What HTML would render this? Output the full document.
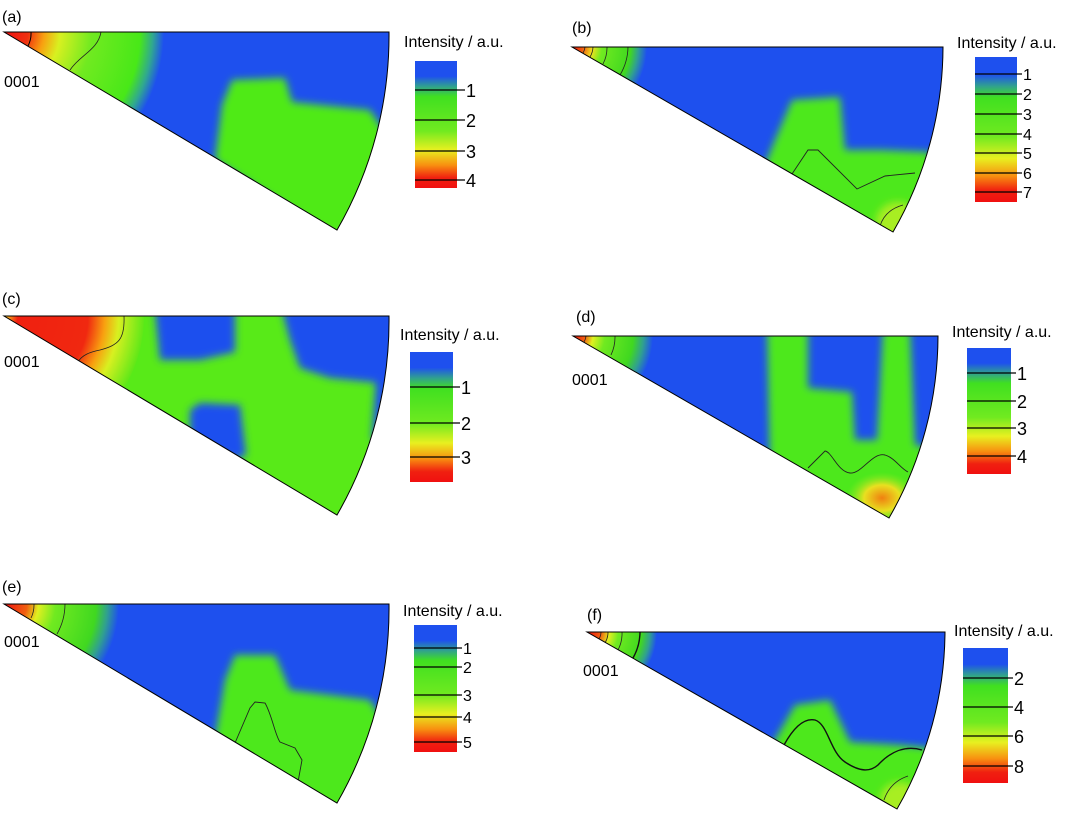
<!DOCTYPE html>
<html><head><meta charset="utf-8"><style>
html,body{margin:0;padding:0;background:#fff;}
svg{display:block;font-family:"Liberation Sans",Arial,sans-serif;}
</style></head><body>
<svg width="1079" height="817" viewBox="0 0 1079 817" xmlns="http://www.w3.org/2000/svg">
<defs>
<filter id="bl" x="-20%" y="-20%" width="140%" height="140%"><feGaussianBlur stdDeviation="4"/></filter>
<clipPath id="ca"><path d="M4,32 L389,32 A388,388 0 0 1 337,230 Z"/></clipPath>
<clipPath id="cb"><path d="M572,47 L943,47 A371,371 0 0 1 893,232 Z"/></clipPath>
<clipPath id="cc"><path d="M4,316 L389,316 A388,388 0 0 1 337,515 Z"/></clipPath>
<clipPath id="cd"><path d="M573,336 L938,336 A365,365 0 0 1 889,518 Z"/></clipPath>
<clipPath id="ce"><path d="M4,604 L389,604 A388,388 0 0 1 337,803 Z"/></clipPath>
<clipPath id="cf"><path d="M587,632 L945,632 A358,358 0 0 1 897,809 Z"/></clipPath>
<radialGradient id="ra" cx="4" cy="32" r="160" gradientUnits="userSpaceOnUse">
<stop offset="0" stop-color="#f01010"/><stop offset="0.15" stop-color="#f03010"/><stop offset="0.25" stop-color="#f8a010"/><stop offset="0.35" stop-color="#d8f020"/><stop offset="0.55" stop-color="#70ea20"/><stop offset="0.85" stop-color="#48e818"/><stop offset="0.93" stop-color="#30a890"/><stop offset="1" stop-color="#1e50ee"/></radialGradient>
<radialGradient id="rb" cx="572" cy="47" r="75" gradientUnits="userSpaceOnUse">
<stop offset="0" stop-color="#f01010"/><stop offset="0.15" stop-color="#f06010"/><stop offset="0.27" stop-color="#f0e020"/><stop offset="0.4" stop-color="#70ea20"/><stop offset="0.78" stop-color="#40d820"/><stop offset="0.88" stop-color="#30a090"/><stop offset="1" stop-color="#1e50ee"/></radialGradient>
<radialGradient id="rc" cx="4" cy="316" r="140" gradientUnits="userSpaceOnUse">
<stop offset="0" stop-color="#f8e020"/><stop offset="0.1" stop-color="#f02010"/><stop offset="0.6" stop-color="#f02810"/><stop offset="0.72" stop-color="#f8a010"/><stop offset="0.82" stop-color="#d8f020"/><stop offset="1" stop-color="#60e818"/></radialGradient>
<radialGradient id="rd" cx="573" cy="336" r="80" gradientUnits="userSpaceOnUse">
<stop offset="0" stop-color="#f01010"/><stop offset="0.15" stop-color="#f06010"/><stop offset="0.25" stop-color="#e0f020"/><stop offset="0.4" stop-color="#70ea20"/><stop offset="0.75" stop-color="#40d820"/><stop offset="0.88" stop-color="#30a090"/><stop offset="1" stop-color="#1e50ee"/></radialGradient>
<radialGradient id="re" cx="4" cy="604" r="115" gradientUnits="userSpaceOnUse">
<stop offset="0" stop-color="#f01010"/><stop offset="0.2" stop-color="#f06010"/><stop offset="0.3" stop-color="#e0f020"/><stop offset="0.45" stop-color="#70ea20"/><stop offset="0.8" stop-color="#40d820"/><stop offset="0.9" stop-color="#30a090"/><stop offset="1" stop-color="#1e50ee"/></radialGradient>
<radialGradient id="rf" cx="587" cy="632" r="70" gradientUnits="userSpaceOnUse">
<stop offset="0" stop-color="#f01010"/><stop offset="0.2" stop-color="#f06010"/><stop offset="0.32" stop-color="#e0f020"/><stop offset="0.45" stop-color="#70ea20"/><stop offset="0.78" stop-color="#40d820"/><stop offset="0.9" stop-color="#30a090"/><stop offset="1" stop-color="#1e50ee"/></radialGradient>
<radialGradient id="hot" cx="0.5" cy="0.5" r="0.5">
<stop offset="0" stop-color="#f08010"/><stop offset="0.5" stop-color="#e8e020"/><stop offset="1" stop-color="#80ea20" stop-opacity="0"/></radialGradient>
<linearGradient id="lg" x1="0" y1="0" x2="0" y2="1">
<stop offset="0" stop-color="#1e50ee"/><stop offset="0.12" stop-color="#1e50ee"/><stop offset="0.2" stop-color="#30a090"/><stop offset="0.28" stop-color="#40e020"/><stop offset="0.55" stop-color="#70ea20"/><stop offset="0.7" stop-color="#e8f020"/><stop offset="0.82" stop-color="#f89010"/><stop offset="0.92" stop-color="#f02010"/><stop offset="1" stop-color="#f01010"/></linearGradient>
</defs>

<g font-size="16" fill="#000">
<text x="2" y="22">(a)</text>
<text x="572" y="33">(b)</text>
<text x="2" y="304">(c)</text>
<text x="576" y="322">(d)</text>
<text x="2" y="592">(e)</text>
<text x="587" y="620">(f)</text>
<text x="4" y="87">0001</text>
<text x="4" y="367">0001</text>
<text x="572" y="385">0001</text>
<text x="4" y="647">0001</text>
<text x="583" y="676">0001</text>
</g>

<!-- (a) -->
<g clip-path="url(#ca)">
<rect x="0" y="20" width="400" height="220" fill="#1e50ee"/>
<circle cx="4" cy="32" r="160" fill="url(#ra)"/>
<polygon filter="url(#bl)" fill="#50ea18" points="215,160 222,105 232,80 285,78 292,102 370,110 390,140 390,250 337,240"/>
<path d="M101,32 C98,50 80,55 70,70" fill="none" stroke="#222" stroke-width="0.8"/>
<path d="M31,32 A27,27 0 0 1 28,46" fill="none" stroke="#000" stroke-width="1"/>
</g>
<path d="M4,32 L389,32 A388,388 0 0 1 337,230 Z" fill="none" stroke="#000" stroke-width="1"/>

<!-- (b) -->
<g clip-path="url(#cb)">
<rect x="560" y="40" width="400" height="200" fill="#1e50ee"/>
<circle cx="572" cy="47" r="75" fill="url(#rb)"/>
<polygon filter="url(#bl)" fill="#4ee81a" points="765,165 775,140 792,100 840,97 845,150 880,150 930,152 935,175 893,240 760,165"/>
<ellipse cx="898" cy="222" rx="22" ry="20" fill="#a8ee20" filter="url(#bl)"/>
<path d="M792,174 L808,150 L818,150 L857,189 L885,176 L915,173" fill="none" stroke="#222" stroke-width="0.9"/>
<path d="M880,226 Q885,210 903,205" fill="none" stroke="#222" stroke-width="0.8"/>
<g fill="none" stroke="#222" stroke-width="0.8">
<path d="M585,47 A13,13 0 0 1 583,53"/><path d="M593,47 A21,21 0 0 1 590,57"/><path d="M607,47 A35,35 0 0 1 603,64"/><path d="M628,47 A56,56 0 0 1 620,75"/></g>
</g>
<path d="M572,47 L943,47 A371,371 0 0 1 893,232 Z" fill="none" stroke="#000" stroke-width="1"/>

<!-- (c) -->
<g clip-path="url(#cc)">
<rect x="0" y="310" width="400" height="210" fill="#58ea18"/>
<circle cx="4" cy="316" r="140" fill="url(#rc)"/>
<g filter="url(#bl)" fill="#1e50ee">
<polygon points="155,310 235,310 235,352 200,360 160,360"/>
<polygon points="282,310 400,310 400,385 330,378 300,368 290,340"/>
<polygon points="190,410 200,403 240,405 246,455 235,460 190,440"/>
<polygon points="378,350 400,350 400,440 372,440"/>
</g>
<path d="M124,316 C125,340 118,345 100,350 C90,352 82,355 78,362" fill="none" stroke="#222" stroke-width="0.8"/>
</g>
<path d="M4,316 L389,316 A388,388 0 0 1 337,515 Z" fill="none" stroke="#000" stroke-width="1"/>

<!-- (d) -->
<g clip-path="url(#cd)">
<rect x="560" y="330" width="390" height="200" fill="#1e50ee"/>
<circle cx="573" cy="336" r="80" fill="url(#rd)"/>
<polygon filter="url(#bl)" fill="#4ee81a" points="767,330 808,330 808,388 852,392 855,440 877,440 883,330 910,330 915,445 945,450 889,530 770,475"/>
<ellipse cx="882" cy="498" rx="36" ry="26" fill="url(#hot)"/>
<path d="M808,468 L825,451 C832,452 838,472 850,473 C862,474 872,452 885,455 C895,458 900,468 908,472" fill="none" stroke="#222" stroke-width="0.9"/>
<g fill="none" stroke="#222" stroke-width="0.8">
<path d="M586,336 A13,13 0 0 1 584,342"/><path d="M615,336 A42,42 0 0 1 611,355"/></g>
</g>
<path d="M573,336 L938,336 A365,365 0 0 1 889,518 Z" fill="none" stroke="#000" stroke-width="1"/>

<!-- (e) -->
<g clip-path="url(#ce)">
<rect x="0" y="598" width="400" height="210" fill="#1e50ee"/>
<circle cx="4" cy="604" r="115" fill="url(#re)"/>
<polygon filter="url(#bl)" fill="#4ee81a" points="212,755 225,680 235,655 275,655 290,690 370,700 392,735 392,820 337,815"/>
<path d="M235,743 L250,708 L255,702 L265,703 C272,715 275,735 280,742 L295,748 L302,760 L298,782" fill="none" stroke="#222" stroke-width="0.9"/>
<g fill="none" stroke="#222" stroke-width="0.8">
<path d="M34,604 A30,30 0 0 1 31,618"/><path d="M65,604 A61,61 0 0 1 57,634"/></g>
</g>
<path d="M4,604 L389,604 A388,388 0 0 1 337,803 Z" fill="none" stroke="#000" stroke-width="1"/>

<!-- (f) -->
<g clip-path="url(#cf)">
<rect x="580" y="625" width="370" height="195" fill="#1e50ee"/>
<circle cx="587" cy="632" r="70" fill="url(#rf)"/>
<polygon filter="url(#bl)" fill="#4ee81a" points="772,745 795,705 830,700 850,742 900,745 930,748 932,780 897,820 770,750"/>
<ellipse cx="900" cy="800" rx="20" ry="18" fill="#a8ee20" filter="url(#bl)"/>
<path d="M784,745 C795,725 805,718 815,720 C828,724 830,752 845,762 C860,772 870,772 878,765 C890,752 905,745 922,750" fill="none" stroke="#111" stroke-width="1.4"/>
<path d="M884,800 Q890,782 908,776" fill="none" stroke="#222" stroke-width="0.8"/>
<g fill="none" stroke="#222" stroke-width="0.8">
<path d="M601,632 A14,14 0 0 1 599,639"/><path d="M608,632 A21,21 0 0 1 605,643"/><path d="M622,632 A35,35 0 0 1 618,650"/></g>
<path d="M640,632 A53,53 0 0 1 633,658" fill="none" stroke="#111" stroke-width="1.4"/>
</g>
<path d="M587,632 L945,632 A358,358 0 0 1 897,809 Z" fill="none" stroke="#000" stroke-width="1"/>

<!-- legends -->
<g font-size="16" fill="#000">
<text x="404" y="47">Intensity / a.u.</text>
<text x="957" y="48">Intensity / a.u.</text>
<text x="400" y="340">Intensity / a.u.</text>
<text x="952" y="337">Intensity / a.u.</text>
<text x="403" y="616">Intensity / a.u.</text>
<text x="954" y="636">Intensity / a.u.</text>
</g>

<rect x="415" y="61" width="42" height="127" fill="url(#lg)"/>
<rect x="975" y="57" width="42" height="145" fill="url(#lg)"/>
<rect x="410" y="352" width="43" height="130" fill="url(#lg)"/>
<rect x="967" y="348" width="44" height="126" fill="url(#lg)"/>
<rect x="414" y="625" width="43" height="127" fill="url(#lg)"/>
<rect x="963" y="648" width="45" height="135" fill="url(#lg)"/>

<g stroke="#000" stroke-width="1.3">
<line x1="415" y1="90" x2="465" y2="90"/><line x1="415" y1="120" x2="465" y2="120"/><line x1="415" y1="151" x2="465" y2="151"/><line x1="415" y1="180" x2="465" y2="180"/>
<line x1="975" y1="74" x2="1022" y2="74"/><line x1="975" y1="94" x2="1022" y2="94"/><line x1="975" y1="114" x2="1022" y2="114"/><line x1="975" y1="134" x2="1022" y2="134"/><line x1="975" y1="153" x2="1022" y2="153"/><line x1="975" y1="173" x2="1022" y2="173"/><line x1="975" y1="192" x2="1022" y2="192"/>
<line x1="410" y1="387" x2="460" y2="387"/><line x1="410" y1="423" x2="460" y2="423"/><line x1="410" y1="457" x2="460" y2="457"/>
<line x1="967" y1="373" x2="1016" y2="373"/><line x1="967" y1="401" x2="1016" y2="401"/><line x1="967" y1="428" x2="1016" y2="428"/><line x1="967" y1="456" x2="1016" y2="456"/>
<line x1="414" y1="648" x2="462" y2="648"/><line x1="414" y1="667" x2="462" y2="667"/><line x1="414" y1="695" x2="462" y2="695"/><line x1="414" y1="717" x2="462" y2="717"/><line x1="414" y1="742" x2="462" y2="742"/>
<line x1="963" y1="678" x2="1013" y2="678"/><line x1="963" y1="707" x2="1013" y2="707"/><line x1="963" y1="736" x2="1013" y2="736"/><line x1="963" y1="766" x2="1013" y2="766"/>
</g>

<g font-size="18" fill="#000">
<text x="466" y="97">1</text><text x="466" y="127">2</text><text x="466" y="158">3</text><text x="466" y="187">4</text>
<text x="461" y="394">1</text><text x="461" y="430">2</text><text x="461" y="464">3</text>
<text x="1017" y="380">1</text><text x="1017" y="408">2</text><text x="1017" y="435">3</text><text x="1017" y="463">4</text>
<text x="1014" y="685">2</text><text x="1014" y="714">4</text><text x="1014" y="743">6</text><text x="1014" y="773">8</text>
</g>
<g font-size="16" fill="#000">
<text x="1023" y="80">1</text><text x="1023" y="100">2</text><text x="1023" y="120">3</text><text x="1023" y="140">4</text><text x="1023" y="159">5</text><text x="1023" y="179">6</text><text x="1023" y="198">7</text>
<text x="463" y="654">1</text><text x="463" y="673">2</text><text x="463" y="701">3</text><text x="463" y="723">4</text><text x="463" y="748">5</text>
</g>
</svg>
</body></html>
